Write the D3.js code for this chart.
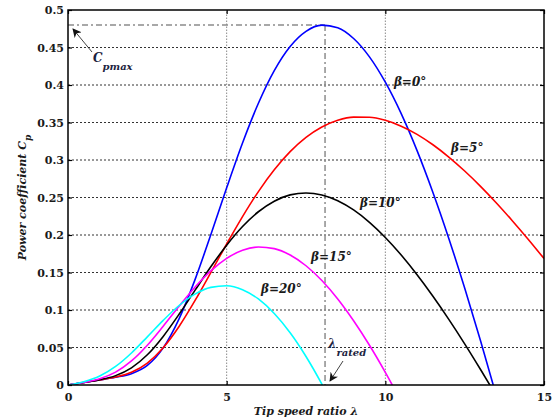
<!DOCTYPE html>
<html>
<head>
<meta charset="utf-8">
<script src="https://cdn.jsdelivr.net/npm/d3@7"></script>
<style>
  html, body { margin: 0; padding: 0; background: #fff; }
  svg { display: block; }
  text { font-family: "DejaVu Serif", serif; }
</style>
</head>
<body>
<svg id="chart" width="554" height="419"></svg>
<script>
// Tip speed ratio grid (step 0.5) shared by all curves
const lambda = [0, 0.5, 1, 1.5, 2, 2.5, 3, 3.5, 4, 4.5, 5, 5.5, 6, 6.5, 7, 7.5,
                8, 8.5, 9, 9.5, 10, 10.5, 11, 11.5, 12, 12.5, 13, 13.5, 14, 14.5, 15];

// Power coefficient for each pitch angle; each series runs until it drops below zero
const cpBeta0  = [0, 0.0034, 0.0068, 0.0103, 0.0151, 0.0261, 0.0495, 0.0882, 0.1402, 0.2003,
                  0.2629, 0.3227, 0.3756, 0.4191, 0.4513, 0.4715, 0.4798, 0.4764, 0.4620, 0.4375,
                  0.4037, 0.3618, 0.3125, 0.2567, 0.1954, 0.1293, 0.0590, -0.0147];
const cpBeta5  = [0, 0.0034, 0.0068, 0.0106, 0.0170, 0.0293, 0.0497, 0.0780, 0.1124, 0.1499,
                  0.1880, 0.2245, 0.2579, 0.2869, 0.3111, 0.3301, 0.3440, 0.3530, 0.3572, 0.3570,
                  0.3529, 0.3451, 0.3342, 0.3203, 0.3039, 0.2853, 0.2649, 0.2427, 0.2191, 0.1944, 0.1686];
const cpBeta10 = [0, 0.0034, 0.0070, 0.0125, 0.0229, 0.0403, 0.0648, 0.0943, 0.1261, 0.1576,
                  0.1864, 0.2113, 0.2310, 0.2451, 0.2535, 0.2561, 0.2534, 0.2457, 0.2334, 0.2169,
                  0.1967, 0.1733, 0.1470, 0.1183, 0.0875, 0.0549, 0.0207, -0.0146];
const cpBeta15 = [0, 0.0035, 0.0083, 0.0171, 0.0321, 0.0531, 0.0784, 0.1050, 0.1304, 0.1522,
                  0.1689, 0.1796, 0.1840, 0.1818, 0.1733, 0.1590, 0.1393, 0.1147, 0.0857, 0.0530,
                  0.0169, -0.0221];
const cpBeta20 = [0, 0.0044, 0.0119, 0.0247, 0.0427, 0.0642, 0.0862, 0.1060, 0.1211, 0.1302,
                  0.1323, 0.1271, 0.1147, 0.0953, 0.0696, 0.0380, 0.0011, -0.0403];

const seriesNames  = ["β=0°", "β=5°", "β=10°", "β=15°", "β=20°"];
const seriesValues = [cpBeta0, cpBeta5, cpBeta10, cpBeta15, cpBeta20];
const seriesColors = ["#0000ff", "#ff0000", "#000000", "#ff00ff", "#00ffff"];
// where each β label sits, in data units
const labelLambda  = [10.27, 12.07, 9.2, 7.66, 6.08];
const labelCp      = [0.399, 0.311, 0.238, 0.165, 0.123];

// Optimum operating point
const cpMax = 0.48;
const lambdaRated = 8.1;

const xTicks = [0, 5, 10, 15];
const yTicks = [0, 0.05, 0.1, 0.15, 0.2, 0.25, 0.3, 0.35, 0.4, 0.45, 0.5];

const svg = d3.select("#chart");
const margin = { left: 68, right: 10, top: 10, bottom: 34 };
const W = 554, H = 419;
const x = d3.scaleLinear().domain([0, 15]).range([margin.left, W - margin.right]);
const y = d3.scaleLinear().domain([0, 0.5]).range([H - margin.bottom, margin.top]);

const defs = svg.append("defs");
defs.append("clipPath").attr("id", "plotClip")
  .append("rect")
  .attr("x", x(0)).attr("y", y(0.5))
  .attr("width", x(15) - x(0)).attr("height", y(0) - y(0.5));

defs.append("marker")
  .attr("id", "arrowHead")
  .attr("viewBox", "0 0 10 10")
  .attr("refX", 9).attr("refY", 5)
  .attr("markerWidth", 9).attr("markerHeight", 9)
  .attr("markerUnits", "userSpaceOnUse")
  .attr("orient", "auto")
  .append("path").attr("d", "M0,0 L10,5 L0,10 L3,5 Z").attr("fill", "#111");

// Grid: horizontal dashed, vertical dotted
const grid = svg.append("g");
grid.selectAll("line.h").data(yTicks.filter(v => v > 0 && v < 0.5)).join("line")
  .attr("x1", x(0)).attr("x2", x(15))
  .attr("y1", d => y(d)).attr("y2", d => y(d))
  .attr("stroke", "#333").attr("stroke-width", 1).attr("stroke-dasharray", "2,2");
grid.selectAll("line.v").data(xTicks.filter(v => v > 0 && v < 15)).join("line")
  .attr("x1", d => x(d)).attr("x2", d => x(d))
  .attr("y1", y(0)).attr("y2", y(0.5))
  .attr("stroke", "#8a8a8a").attr("stroke-width", 1).attr("stroke-dasharray", "1.5,1.5");

// Cp max reference lines (dash-dot)
const ref = svg.append("g").attr("stroke", "#8c8c8c").attr("stroke-width", 1.5)
  .attr("stroke-dasharray", "6,3,2,3").attr("fill", "none");
ref.append("line").attr("x1", x(0)).attr("x2", x(lambdaRated))
  .attr("y1", y(cpMax)).attr("y2", y(cpMax));
ref.append("line").attr("x1", x(lambdaRated)).attr("x2", x(lambdaRated))
  .attr("y1", y(cpMax)).attr("y2", y(0));

// Curves
const line = d3.line()
  .x(d => x(d[0])).y(d => y(d[1]))
  .curve(d3.curveMonotoneX);
const curves = svg.append("g").attr("clip-path", "url(#plotClip)");
seriesValues.forEach((vals, i) => {
  curves.append("path")
    .datum(vals.map((v, j) => [lambda[j], v]))
    .attr("d", line)
    .attr("fill", "none")
    .attr("stroke", seriesColors[i])
    .attr("stroke-width", 1.6);
});

// Axes with inward ticks on all four sides
const tickLen = 4;
const axisG = svg.append("g");
const yAxisL = d3.axisLeft(y).tickValues(yTicks).tickSize(-tickLen).tickPadding(4)
  .tickFormat(d => d3.format("")(+d.toFixed(2)));
axisG.append("g").attr("transform", `translate(${x(0)},0)`).call(yAxisL);
const yAxisR = d3.axisRight(y).tickValues(yTicks).tickSize(-tickLen).tickFormat("");
axisG.append("g").attr("transform", `translate(${x(15)},0)`).call(yAxisR);
const xAxisB = d3.axisBottom(x).tickValues(xTicks).tickSize(-tickLen).tickPadding(8)
  .tickFormat(d3.format("d"));
axisG.append("g").attr("transform", `translate(0,${y(0)})`).call(xAxisB);
const xAxisT = d3.axisTop(x).tickValues(xTicks).tickSize(-tickLen).tickFormat("");
axisG.append("g").attr("transform", `translate(0,${y(0.5)})`).call(xAxisT);
axisG.selectAll(".domain").remove();
axisG.selectAll(".tick line").attr("stroke", "#000").attr("stroke-width", 1.2);
axisG.selectAll(".tick text")
  .attr("font-family", "DejaVu Serif, serif")
  .attr("font-weight", "bold")
  .attr("font-size", 11)
  .attr("fill", "#1a1a1a");

// Frame
svg.append("rect")
  .attr("x", x(0)).attr("y", y(0.5))
  .attr("width", x(15) - x(0)).attr("height", y(0) - y(0.5))
  .attr("fill", "none").attr("stroke", "#000").attr("stroke-width", 1.5);

// β labels
const labelStyle = (sel, size = 12) => sel
  .attr("font-family", "DejaVu Serif, serif")
  .attr("font-weight", "bold")
  .attr("font-style", "italic")
  .attr("font-size", size)
  .attr("fill", "#1a1a1a");
seriesNames.forEach((name, i) => {
  svg.append("text")
    .attr("x", x(labelLambda[i])).attr("y", y(labelCp[i]))
    .text(name).call(labelStyle);
});

// Cp max annotation
svg.append("line")
  .attr("x1", 92).attr("y1", 52).attr("x2", 73).attr("y2", 29)
  .attr("stroke", "#111").attr("stroke-width", 0.8).attr("marker-end", "url(#arrowHead)");
const cpmaxText = svg.append("text").attr("x", 93).attr("y", 62).call(labelStyle)
  .attr("fill", "#1c2340");
cpmaxText.append("tspan").text("C");
cpmaxText.append("tspan").attr("dy", 8).attr("font-size", 10).text("pmax");

// λ rated annotation
svg.append("line")
  .attr("x1", 343).attr("y1", 361).attr("x2", 330).attr("y2", 381)
  .attr("stroke", "#111").attr("stroke-width", 0.8).attr("marker-end", "url(#arrowHead)");
const ratedText = svg.append("text").attr("x", 328).attr("y", 348).call(labelStyle)
  .attr("fill", "#1c2340");
ratedText.append("tspan").text("λ");
ratedText.append("tspan").attr("dy", 8).attr("font-size", 10).text("rated");

// Axis titles
svg.append("text")
  .attr("x", (x(0) + x(15)) / 2).attr("y", 415)
  .attr("text-anchor", "middle")
  .call(labelStyle, 11)
  .text("Tip speed ratio λ");
const yTitle = svg.append("text")
  .attr("transform", `translate(26,${(y(0) + y(0.5)) / 2}) rotate(-90)`)
  .attr("text-anchor", "middle")
  .call(labelStyle, 11);
yTitle.append("tspan").text("Power coefficient C");
yTitle.append("tspan").attr("dy", 5).attr("font-size", 9).text("p");
</script>
</body>
</html>
